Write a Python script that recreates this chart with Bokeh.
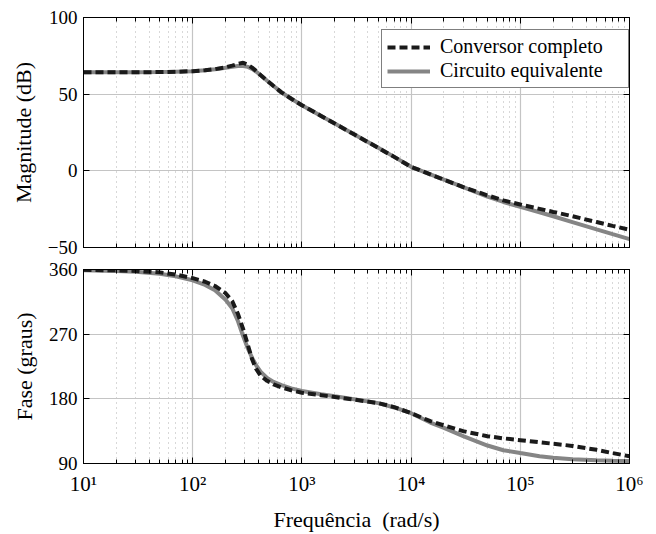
from bokeh.plotting import figure
from bokeh.models import (LogAxis, LinearAxis, FixedTicker, Legend, LegendItem,
                          Range1d, ColumnDataSource)
from bokeh.layouts import column
from bokeh.embed import file_html
from bokeh.resources import INLINE

# ---------------- data ----------------
freq = [10, 20, 30, 50, 70, 100, 130, 160, 200, 230, 260, 290, 320, 350, 380, 420,
        480, 550, 650, 800, 1000, 1500, 2000, 3000, 5000, 7000, 1e4, 1.5e4, 2e4,
        3e4, 5e4, 7e4, 1e5, 1.5e5, 2e5, 3e5, 5e5, 7e5, 1e6]

mag_conversor = [64.3, 64.3, 64.3, 64.4, 64.6, 65.0, 65.6, 66.3, 67.5, 68.6, 69.8,
                 70.5, 69.2, 67.3, 65.2, 62.4, 58.8, 55.3, 51.2, 47.0, 42.8, 35.8,
                 30.8, 23.8, 15.0, 9.1, 2.6, -2.3, -5.8, -10.6, -16.0, -19.3, -22.0,
                 -24.8, -26.8, -29.6, -33.4, -35.9, -38.4]

mag_circuito = [64.3, 64.3, 64.3, 64.4, 64.6, 65.0, 65.6, 66.3, 67.2, 67.9, 68.4,
                68.4, 67.8, 66.5, 64.8, 62.3, 58.8, 55.3, 51.2, 47.0, 42.8, 35.8,
                30.8, 23.8, 15.0, 9.1, 2.6, -2.3, -5.8, -10.6, -16.8, -20.3, -23.5,
                -27.0, -29.6, -33.4, -38.2, -41.3, -44.5]

fase_conversor = [359.5, 358.8, 358.0, 356.0, 353.0, 348.0, 343.0, 337.0, 327.0,
                  316.0, 298.0, 277.0, 255.0, 235.0, 222.0, 212.0, 205.0, 200.0,
                  196.0, 192.0, 188.5, 185.0, 182.5, 179.0, 174.0, 168.5, 160.0,
                  149.0, 143.0, 135.0, 128.0, 125.0, 122.5, 119.5, 117.5, 114.5,
                  109.0, 104.5, 100.0]

fase_circuito = [359.0, 358.0, 357.0, 354.0, 350.5, 345.0, 338.5, 331.0, 318.0,
                 306.0, 288.0, 267.0, 250.0, 237.0, 227.0, 217.5, 209.0, 203.5,
                 199.0, 194.5, 191.0, 186.5, 183.5, 179.5, 174.0, 168.0, 160.0,
                 147.0, 139.5, 128.0, 115.0, 108.5, 104.5, 100.0, 98.0, 96.0,
                 94.5, 94.0, 93.5]

x_ticks = [10, 100, 1000, 10000, 100000, 1000000]
x_tick_labels = ["10¹", "10²", "10³", "10⁴", "10⁵", "10⁶"]
mag_ticks = [-50, 0, 50, 100]
fase_ticks = [90, 180, 270, 360]

series_names = ["Conversor completo", "Circuito equivalente"]
y_labels = ["Magnitude (dB)", "Fase (graus)"]
x_label = "Frequência\u00a0 (rad/s)"

# ---------------- styling ----------------
FONT = "Liberation Serif"
x_minor = [m * d for d in x_ticks[:-1] for m in range(2, 10)]
overrides = {t: lab for t, lab in zip(x_ticks, x_tick_labels)}

src = ColumnDataSource(dict(f=freq, mc=mag_conversor, mq=mag_circuito,
                            fc=fase_conversor, fq=fase_circuito))


def hide_labels(ax, ticks):
    ax.major_label_overrides = {t: "" for t in ticks}
    ax.major_label_text_font_size = "1px"
    ax.major_label_text_alpha = 0
    ax.major_label_standoff = 0


def style(p, yticks, show_xlabels):
    xt = FixedTicker(ticks=x_ticks, minor_ticks=x_minor)
    yt = FixedTicker(ticks=yticks)
    p.xaxis.ticker = xt
    p.yaxis.ticker = yt
    for ax in p.xaxis + p.yaxis:
        ax.axis_line_color = "black"
        ax.major_tick_line_color = "black"
        ax.minor_tick_line_color = "black"
        ax.major_tick_in = 6
        ax.major_tick_out = 0
        ax.minor_tick_in = 4
        ax.minor_tick_out = 0
        ax.major_label_text_font = FONT
        ax.major_label_text_font_size = "21px"
        ax.major_label_text_color = "black"
        ax.axis_label_text_font = FONT
        ax.axis_label_text_font_size = "22px"
        ax.axis_label_text_font_style = "normal"
        ax.axis_label_text_color = "black"
    p.yaxis.minor_tick_line_color = None
    p.yaxis.major_label_text_font_size = "19px"
    p.yaxis.major_label_standoff = 6
    p.yaxis.axis_label_standoff = 9
    if show_xlabels:
        p.xaxis.major_label_overrides = overrides
        p.xaxis.major_label_standoff = 8
        p.xaxis.axis_label_standoff = 8
    else:
        for ax in p.xaxis:
            hide_labels(ax, x_ticks)
    # mirrored axes (top / right)
    top = LogAxis(ticker=xt, axis_line_color="black", major_tick_in=6, major_tick_out=0,
                  minor_tick_in=4, minor_tick_out=0, major_tick_line_color="black",
                  minor_tick_line_color="black")
    hide_labels(top, x_ticks)
    right = LinearAxis(ticker=yt, axis_line_color="black", major_tick_in=6,
                       major_tick_out=0, minor_tick_line_color=None,
                       major_tick_line_color="black")
    hide_labels(right, yticks)
    p.add_layout(top, "above")
    p.add_layout(right, "right")
    # grids
    p.xgrid.grid_line_color = "#c4c4c4"
    p.xgrid.grid_line_width = 1.2
    p.xgrid.minor_grid_line_color = "#b0b0b0"
    p.xgrid.minor_grid_line_dash = "1 4"
    p.xgrid.minor_grid_line_width = 1
    p.ygrid.grid_line_color = "#c4c4c4"
    p.ygrid.grid_line_width = 1.2
    p.outline_line_color = "black"
    p.background_fill_color = "white"
    p.border_fill_color = "white"


p1 = figure(width=656, height=258, x_axis_type="log", output_backend="svg",
            toolbar_location=None, x_range=Range1d(10, 1e6), y_range=Range1d(-50, 100),
            min_border_left=83, min_border_right=27, min_border_top=17, min_border_bottom=11)
style(p1, mag_ticks, False)
p1.left[0].axis_label = y_labels[0]
r1b = p1.line("f", "mq", source=src, line_color="#858585", line_width=4)
r1a = p1.line("f", "mc", source=src, line_color="#1a1a1a", line_width=4, line_dash="8 4")

legend = Legend(items=[LegendItem(label=series_names[0], renderers=[r1a]),
                       LegendItem(label=series_names[1], renderers=[r1b])],
                location=(298, 159), margin=0, padding=5, spacing=1,
                glyph_width=43, glyph_height=20, label_height=20, label_width=183,
                label_standoff=10, label_text_font=FONT, label_text_font_size="20px",
                label_text_color="black", border_line_color="black",
                border_line_width=1, background_fill_color="white",
                background_fill_alpha=1.0)
p1.add_layout(legend)

p2 = figure(width=656, height=276, x_axis_type="log", output_backend="svg",
            toolbar_location=None, x_range=p1.x_range, y_range=Range1d(90, 360),
            min_border_left=83, min_border_right=27, min_border_top=11, min_border_bottom=66)
style(p2, fase_ticks, True)
p2.left[0].axis_label = y_labels[1]
p2.below[0].axis_label = x_label
p2.line("f", "fq", source=src, line_color="#858585", line_width=4)
p2.line("f", "fc", source=src, line_color="#1a1a1a", line_width=4, line_dash="8 4")

layout = column(p1, p2, spacing=0)
open("out.html", "w").write(file_html(layout, INLINE))
